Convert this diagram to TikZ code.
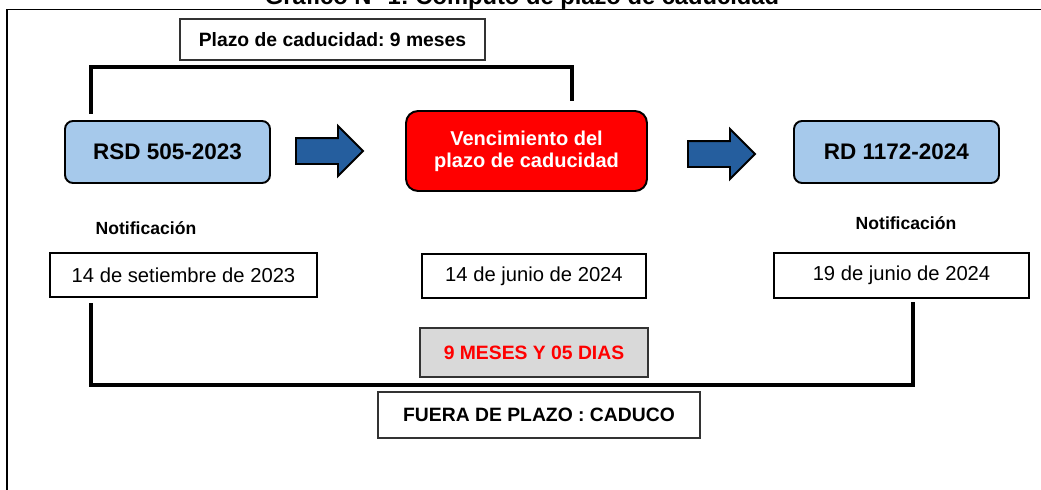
\documentclass[tikz,border=0pt]{standalone}
\usepackage{fontspec}
\setmainfont{Liberation Sans}
\frenchspacing
\usetikzlibrary{positioning,shapes.arrows}
\definecolor{SkyBox}{RGB}{166,201,235}
\definecolor{ArrBlue}{RGB}{37,94,158}
\definecolor{GrayBox}{RGB}{217,217,217}

\begin{document}
\begin{tikzpicture}[x=0.02cm,y=-0.02cm]
	\tikzset{
		doc/.style={rectangle, rounded corners=0.16cm, draw=black, line width=1.1pt, fill=SkyBox,
			minimum width=4.1cm, minimum height=1.24cm, font=\fontsize{12.8pt}{15pt}\selectfont\bfseries},
		due/.style={rectangle, rounded corners=0.24cm, draw=black, line width=1.1pt, fill=red, text=white,
			minimum width=4.82cm, minimum height=1.6cm, align=center,
			font=\fontsize{11.4pt}{12.5pt}\selectfont\bfseries},
		date/.style={rectangle, draw=black, line width=0.9pt, fill=white, minimum height=0.88cm,
			font=\fontsize{11.5pt}{14pt}\selectfont},
		tag/.style={rectangle, draw=black!80, line width=0.9pt, fill=white,
			font=\fontsize{11pt}{13pt}\selectfont\bfseries},
		arr/.style={single arrow, draw=black, line width=1.1pt, fill=ArrBlue, inner sep=0pt,
			inner ysep=0.24cm, minimum height=1.34cm, single arrow head extend=0.24cm, anchor=tail},
		brk/.style={line width=2.3pt, line cap=rect}
	}
	\useasboundingbox (0,0) rectangle (1041,490);
	\clip (0,0) rectangle (1041,490);
	
	% ======= Title and frame =======
	\node[anchor=base, font=\fontsize{13.5pt}{16pt}\selectfont\bfseries] (title) at (522,4.5)
		{Gráfico N° 1: Cómputo de plazo de caducidad};
	\draw[line width=0.6pt] (7,490) -- (7,9.5) -- (1041,9.5);
	
	% ======= Top row =======
	\node[tag, minimum width=6.1cm, minimum height=0.82cm] (plazo) at (332.5,39.5) {Plazo de caducidad: 9 meses};
	\node[doc] (rsd) at (167.5,152) {RSD 505-2023};
	\node[arr] (a1) at (295,151) {};
	\node[due] (venc) at (526.5,151) {Vencimiento del\\plazo de caducidad};
	\node[arr] (a2) at (687,154) {};
	\node[doc] (rd) at (896.5,152) {RD 1172-2024};
	
	% ======= Notifications and dates =======
	\node[font=\fontsize{10pt}{12pt}\selectfont\bfseries] (n1) at (146,228) {Notificación};
	\node[font=\fontsize{10pt}{12pt}\selectfont\bfseries] (n2) at (906,223) {Notificación};
	\node[date, minimum width=5.34cm] (d1) at (183.5,275) {14 de setiembre de 2023};
	\node[date, minimum width=4.48cm] (d2) at (534,276) {14 de junio de 2024};
	\node[date, minimum width=5.1cm, minimum height=0.9cm] (d3) at (901.5,275.5) {19 de junio de 2024};
	
	% ======= Totals =======
	\node[tag, fill=GrayBox, text=red, minimum width=4.56cm, minimum height=0.98cm] (dias) at (534,352.5) {9 MESES Y 05 DIAS};
	\node[tag, minimum width=6.44cm, minimum height=0.92cm] (fuera) at (539,415) {FUERA DE PLAZO : CADUCO};
	
	% ======= Brackets =======
	\coordinate (tl) at (91,112);
	\coordinate (tr) at (572,99);
	\coordinate (bl) at (91,305);
	\coordinate (br) at (913,304);
	\draw[brk] (tl) -- ++(0,-45) -| (tr);
	\draw[brk] (bl) -- ++(0,80) -| (br);
\end{tikzpicture}
\end{document}
